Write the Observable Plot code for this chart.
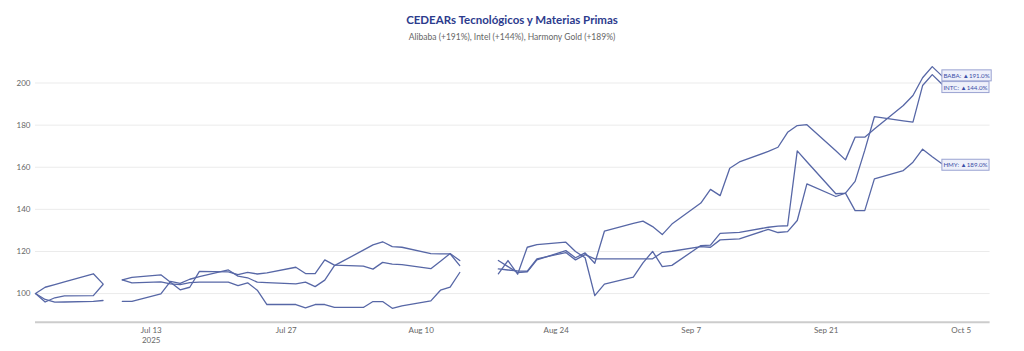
<!DOCTYPE html>
<html><head><meta charset="utf-8">
<script src="https://cdn.jsdelivr.net/npm/d3@7"></script>
<script src="https://cdn.jsdelivr.net/npm/@observablehq/plot@0.6"></script>
<style>
body{margin:0;background:#fff;font-family:Lato,"Noto Sans",sans-serif;}
#head{position:relative;height:50px;width:1024px;}
#title{position:absolute;top:13px;width:100%;text-align:center;font-weight:700;font-size:11.5px;color:#2c3b8d;}
#sub{position:absolute;top:32px;width:100%;text-align:center;font-size:8.5px;color:#666;}
</style></head><body>
<div id="head"><div id="title">CEDEARs Tecnológicos y Materias Primas</div><div id="sub">Alibaba (+191%), Intel (+144%), Harmony Gold (+189%)</div></div>
<div id="chart"></div>
<script>
const dates = ["2025-07-01","2025-07-02","2025-07-03","2025-07-04","2025-07-07","2025-07-08","2025-07-09","2025-07-10","2025-07-11","2025-07-14","2025-07-15","2025-07-16","2025-07-17","2025-07-18","2025-07-21","2025-07-22","2025-07-23","2025-07-24","2025-07-25","2025-07-28","2025-07-29","2025-07-30","2025-07-31",
"2025-08-01","2025-08-04","2025-08-05","2025-08-06","2025-08-07","2025-08-08","2025-08-11","2025-08-12","2025-08-13","2025-08-14","2025-08-15","2025-08-18","2025-08-19","2025-08-20","2025-08-21","2025-08-22","2025-08-25","2025-08-26","2025-08-27","2025-08-28","2025-08-29",
"2025-09-01","2025-09-02","2025-09-03","2025-09-04","2025-09-05","2025-09-08","2025-09-09","2025-09-10","2025-09-11","2025-09-12","2025-09-15","2025-09-16","2025-09-17","2025-09-18","2025-09-19","2025-09-22","2025-09-23","2025-09-24","2025-09-25","2025-09-26","2025-09-29","2025-09-30",
"2025-10-01","2025-10-02","2025-10-03"];

const baba = [100,103.0,104.2,105.5,109.4,104.6,null,106.5,107.7,108.9,105.4,101.8,103.0,110.5,110.3,109.0,110.1,109.3,109.8,112.5,109.5,109.5,116.0,
113.5,113.0,111.6,114.8,114.0,113.7,111.8,115.4,119.0,115.7,null,115.7,112.8,110.0,110.3,116.0,120.4,117.0,119.3,114.4,129.6,
133.3,134.4,131.8,128.0,133.0,143.0,149.5,146.5,159.5,162.5,167.5,169.5,176.6,179.8,180.2,167.8,163.5,174.3,174.3,178.2,189.3,194.1,
202.5,207.8,203.4];

const intc = [100,96.0,98.0,98.9,99.0,104.3,null,106.5,105.1,105.6,104.6,104.2,105.2,105.4,105.4,103.8,105.1,101.6,94.8,94.8,93.2,94.8,94.8,
93.4,93.4,96.2,96.2,93.0,94.2,96.5,101.6,103.1,110.0,null,109.4,115.7,109.2,122.0,123.2,124.4,120.0,117.0,99.0,104.5,
107.8,114.6,120.0,112.8,113.4,122.8,123.0,128.6,128.8,129.1,131.5,132.0,132.2,167.8,162.6,147.4,147.7,153.3,168.0,184.0,182.0,181.4,
198.8,204.0,199.5];

const hmy = [100,97.2,95.9,96.0,96.3,96.7,null,96.3,96.3,99.9,105.8,104.8,106.8,108.0,111.2,108.3,107.5,105.4,105.2,104.6,105.4,103.3,106.4,
113.3,120.6,123.1,124.6,122.3,122.0,119.0,118.9,118.9,113.3,null,111.7,111.2,110.8,110.6,116.5,119.5,116.0,118.5,116.5,116.5,
116.5,116.5,116.5,119.6,120.1,122.3,122.0,125.5,125.7,126.0,130.5,129.0,129.4,134.7,152.1,146.1,147.7,139.4,139.4,154.5,158.4,162.4,
168.6,165.0,161.7];

const seriesNames = ["BABA","INTC","HMY"];
const seriesPct = ["191.0","144.0","189.0"];
const xTicks = ["2025-07-13","2025-07-27","2025-08-10","2025-08-24","2025-09-07","2025-09-21","2025-10-05"];
const yTicks = [100,120,140,160,180,200];
const xDomain = ["2025-07-01","2025-10-08"];
const yDomain = [86.4,210.7];

const allSeries = [baba, intc, hmy];
const rows = [];
allSeries.forEach((vals, s) => {
  vals.forEach((v, i) => rows.push({date: new Date(dates[i]), value: v == null ? NaN : v, series: seriesNames[s]}));
});
const lastIdx = dates.length - 1;
const labels = allSeries.map((vals, s) => ({date: new Date(dates[lastIdx]), value: vals[lastIdx], text: `${seriesNames[s]}: ▲${seriesPct[s]}%`}));
const labelDy = [0, 3.5, 1.6];

const fmt = d3.utcFormat("%b %-d");
const chart = Plot.plot({
  width: 1024, height: 301,
  marginTop: 10, marginBottom: 29.3, marginLeft: 35, marginRight: 34.4,
  style: {fontFamily: "Lato, 'Noto Sans', sans-serif", fontSize: "8px", color: "#666", background: "#fff", overflow: "visible"},
  x: {type: "utc", domain: xDomain.map(d => new Date(d)), label: null},
  y: {domain: yDomain, label: null},
  marks: [
    Plot.gridY(yTicks, {stroke: "#ebebeb", strokeOpacity: 1}),
    Plot.ruleY([yDomain[0]], {stroke: "#cccccc", strokeWidth: 2}),
    Plot.axisY(yTicks, {tickSize: 0, tickPadding: 5, fill: "#666", fontSize: 8}),
    Plot.axisX(xTicks.map(d => new Date(d)), {tickSize: 0, tickPadding: 4, fill: "#666", fontSize: 8, lineHeight: 1.25,
      tickFormat: (d, i) => i === 0 ? fmt(d) + "\n2025" : fmt(d)}),
    Plot.lineY(rows, {x: "date", y: "value", z: "series", stroke: "#5767a6", strokeWidth: 1.3}),
    ...labels.map((l, i) => Plot.text([l], {x: "date", y: "value", text: "text", dx: 1.5, dy: labelDy[i], textAnchor: "start", fill: "#3c4fa8", fontSize: 6.2}))
  ]
});
document.getElementById("chart").appendChild(chart);
chart.querySelectorAll("text").forEach(t => {
  if (!t.textContent.includes("▲")) return;
  const b = t.getBBox();
  const r = document.createElementNS("http://www.w3.org/2000/svg", "rect");
  r.setAttribute("x", b.x - 1.5); r.setAttribute("y", b.y - 2);
  r.setAttribute("width", b.width + 3); r.setAttribute("height", b.height + 4);
  r.setAttribute("fill", "#eef0fa"); r.setAttribute("stroke", "#9aa3d2"); r.setAttribute("stroke-width", 1);
  const tr = t.getAttribute("transform"); if (tr) r.setAttribute("transform", tr);
  t.parentNode.insertBefore(r, t);
});
</script>
</body></html>
